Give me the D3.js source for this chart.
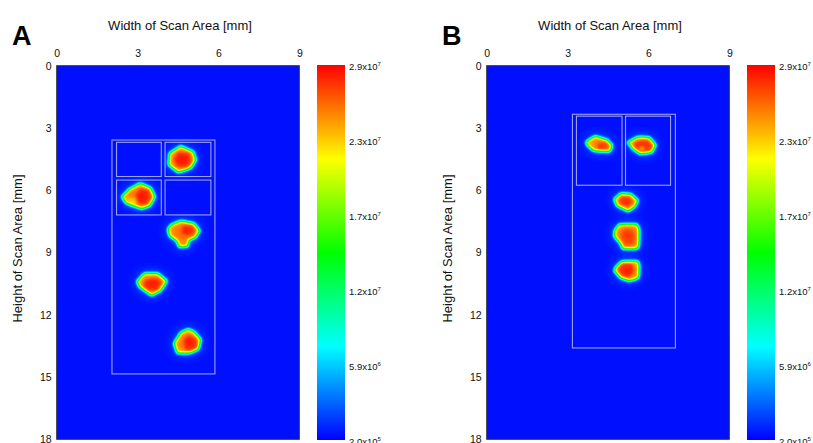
<!DOCTYPE html>
<html><head><meta charset="utf-8">
<script src="https://cdn.jsdelivr.net/npm/d3@7"></script>
<style>
html,body{margin:0;padding:0;background:#fff;}
svg{display:block;font-family:"Liberation Sans",Arial,sans-serif;}
</style></head><body>
<svg id="chart" width="813" height="443"></svg>
<script>
// Signal range of the colour bars and their tick values
const signalMin = 2.0e5;
const signalMax = 2.88e7;
const colorbarTicks = [2.0e5, 5.92e6, 1.164e7, 1.736e7, 2.308e7, 2.88e7];
const backgroundSignal = 6.0e5;

// Scan area (mm) and axis ticks
const scanWidth = 9, scanHeight = 18;
const xTicks = [0, 3, 6, 9];
const yTicks = [0, 3, 6, 9, 12, 15, 18];
const panelLabels = ["A", "B"];

// Panel A: hot spots (plateau outline in mm) and inner cores
const spotsA = [
  {level: 2.6e7, outline: [[4.18,4.22],[4.60,3.87],[5.07,4.14],[5.17,4.54],[4.98,4.94],[4.51,5.15],[4.15,4.78]]},
  {level: 2.6e7, outline: [[3.09,5.66],[3.49,5.88],[3.65,6.31],[3.46,6.76],[3.15,6.90],[2.57,6.63],[2.41,6.31],[2.69,5.95]]},
  {level: 2.6e7, outline: [[4.23,7.67],[4.60,7.47],[5.09,7.59],[5.32,7.95],[5.14,8.30],[4.92,8.40],[4.86,8.72],[4.54,8.75],[4.45,8.43],[4.18,8.20],[4.12,7.88]]},
  {level: 2.6e7, outline: [[2.97,10.40],[3.25,10.00],[3.75,10.00],[4.10,10.37],[3.86,10.84],[3.52,11.08],[3.06,10.65]]},
  {level: 2.6e7, outline: [[4.88,12.68],[5.09,12.81],[5.35,13.18],[5.27,13.66],[4.94,13.85],[4.47,13.85],[4.35,13.37],[4.60,12.86]]}
];
const coresA = [
  {level: 2.85e7, outline: [[4.50,4.16],[4.94,4.21],[5.02,4.64],[4.79,4.93],[4.42,4.83],[4.35,4.45]]},
  {level: 2.85e7, outline: [[3.09,5.89],[3.46,5.99],[3.53,6.37],[3.31,6.71],[3.02,6.66],[2.94,6.23]]},
  {level: 2.35e7, outline: [[2.64,6.37],[2.90,6.32],[2.98,6.61],[2.76,6.76]]},
  {level: 2.85e7, outline: [[4.68,7.67],[5.05,7.67],[5.17,7.96],[4.94,8.20],[4.65,8.06]]},
  {level: 2.85e7, outline: [[3.28,10.32],[3.76,10.23],[3.94,10.47],[3.72,10.85],[3.38,10.85],[3.20,10.61]]},
  {level: 2.85e7, outline: [[4.87,12.97],[5.16,13.12],[5.28,13.55],[5.02,13.79],[4.76,13.69],[4.72,13.21]]}
];
// Panel A: sample frames [x0, y0, x1, y1] in mm
const framesA = [
  [2.05, 3.58, 5.87, 14.85],
  [2.22, 3.69, 3.88, 5.34],
  [4.02, 3.69, 5.72, 5.34],
  [2.22, 5.51, 3.88, 7.19],
  [4.02, 5.51, 5.72, 7.19]
];

// Panel B
const spotsB = [
  {level: 2.6e7, outline: [[3.68,3.66],[4.02,3.39],[4.47,3.57],[4.67,3.85],[4.57,4.14],[3.98,4.11],[3.73,3.85]]},
  {level: 2.6e7, outline: [[5.22,3.69],[5.62,3.42],[6.03,3.45],[6.28,3.82],[6.12,4.19],[5.69,4.25],[5.42,4.01]]},
  {level: 2.6e7, outline: [[4.98,6.15],[5.35,6.18],[5.62,6.50],[5.50,6.79],[5.25,7.03],[4.84,6.76],[4.72,6.44]]},
  {level: 2.6e7, outline: [[4.92,7.64],[5.56,7.63],[5.66,7.83],[5.65,8.72],[5.56,8.83],[5.04,8.83],[4.97,8.59],[4.72,8.20],[4.75,7.91]]},
  {level: 2.6e7, outline: [[5.02,9.42],[5.59,9.41],[5.66,9.55],[5.65,10.19],[5.54,10.29],[5.29,10.37],[4.97,10.24],[4.72,9.87],[4.82,9.65]]}
];
const coresB = [
  {level: 2.85e7, outline: [[4.13,3.72],[4.47,3.68],[4.58,3.92],[4.43,4.11],[4.10,4.06]]},
  {level: 2.85e7, outline: [[5.43,3.68],[5.98,3.58],[6.20,3.87],[6.06,4.16],[5.69,4.21],[5.50,4.01]]},
  {level: 2.45e7, outline: [[5.65,3.90],[5.82,3.87],[5.85,4.05],[5.69,4.10]]},
  {level: 2.85e7, outline: [[4.94,6.28],[5.31,6.33],[5.46,6.57],[5.24,6.81],[4.91,6.66]]},
  {level: 2.75e7, outline: [[5.02,7.91],[5.39,7.87],[5.54,8.30],[5.46,8.68],[5.09,8.68],[4.98,8.30]]},
  {level: 2.85e7, outline: [[4.95,9.50],[5.39,9.50],[5.46,9.94],[5.24,10.23],[4.95,10.08],[4.83,9.75]]}
];
const framesB = [
  [3.18, 2.34, 7.00, 13.60],
  [3.33, 2.43, 5.02, 5.76],
  [5.15, 2.43, 6.82, 5.76]
];

const panels = [
  {label: panelLabels[0], spots: spotsA, cores: coresA, frames: framesA, left: 56.7},
  {label: panelLabels[1], spots: spotsB, cores: coresB, frames: framesB, left: 486.7}
];

// ---- layout ----
const plotTop = 65.7, plotW = 242.6, plotH = 373.6;
const barOffset = 260.3, barW = 28, barTop = 65, barBottom = 440;

const svg = d3.select("#chart");
const defs = svg.append("defs");

// normalised signal and jet-style colour map
const norm = d3.scaleLinear().domain([signalMin, signalMax]).range([0, 1]).clamp(true);
const jetStops = ["#0000ff", "#00ffff", "#00ff00", "#ffff00", "#ff0000"];
const color = d3.scaleLinear()
  .domain(jetStops.map((_, i) => norm.invert(i / (jetStops.length - 1))))
  .range(jetStops);

// intensity -> colour filter: smoothed field (sharp core + faint halo), then the colour table
const heat = defs.append("filter").attr("id", "heatmap")
  .attr("x", 0).attr("y", 0).attr("width", 1).attr("height", 1)
  .attr("color-interpolation-filters", "sRGB");
heat.append("feGaussianBlur").attr("in", "SourceGraphic").attr("stdDeviation", 1.6).attr("result", "near");
heat.append("feGaussianBlur").attr("in", "SourceGraphic").attr("stdDeviation", 5.5).attr("result", "far");
heat.append("feComposite").attr("in", "near").attr("in2", "far").attr("operator", "arithmetic")
  .attr("k1", 0).attr("k2", 0.85).attr("k3", 0.15).attr("k4", 0).attr("result", "field");
const transfer = heat.append("feComponentTransfer").attr("in", "field");
const samples = d3.range(129).map(i => d3.rgb(color(norm.invert(i / 128))));
transfer.append("feFuncR").attr("type", "table").attr("tableValues", samples.map(c => (c.r / 255).toFixed(4)).join(" "));
transfer.append("feFuncG").attr("type", "table").attr("tableValues", samples.map(c => (c.g / 255).toFixed(4)).join(" "));
transfer.append("feFuncB").attr("type", "table").attr("tableValues", samples.map(c => (c.b / 255).toFixed(4)).join(" "));
transfer.append("feFuncA").attr("type", "linear").attr("slope", 0).attr("intercept", 1);

const gray = v => { const g = Math.round(norm(v) * 255); return d3.rgb(g, g, g).formatHex(); };

// colour bar gradient
const grad = defs.append("linearGradient").attr("id", "cbar")
  .attr("x1", 0).attr("y1", 1).attr("x2", 0).attr("y2", 0);
d3.range(33).forEach(i => {
  grad.append("stop").attr("offset", i / 32).attr("stop-color", color(norm.invert(i / 32)));
});

const x = d3.scaleLinear().domain([0, scanWidth]).range([0, plotW]);
const y = d3.scaleLinear().domain([0, scanHeight]).range([0, plotH]);
const line = d3.line().x(d => x(d[0])).y(d => y(d[1])).curve(d3.curveLinearClosed);

function fmtSignal(v) {
  const e = Math.floor(Math.log10(v));
  return {m: (v / Math.pow(10, e)).toFixed(1), e: e};
}

panels.forEach((p, pi) => {
  const g = svg.append("g").attr("transform", `translate(${p.left},${plotTop})`);

  defs.append("clipPath").attr("id", "clip" + pi)
    .append("rect").attr("width", plotW).attr("height", plotH);

  const clipped = g.append("g").attr("clip-path", `url(#clip${pi})`);
  const field = clipped.append("g").attr("filter", "url(#heatmap)");
  field.append("rect").attr("x", -16).attr("y", -16)
    .attr("width", plotW + 32).attr("height", plotH + 32)
    .attr("fill", gray(backgroundSignal));
  field.selectAll("path.spot").data(p.spots).join("path").attr("class", "spot")
    .attr("d", d => line(d.outline)).attr("fill", d => gray(d.level));
  field.selectAll("path.core").data(p.cores).join("path").attr("class", "core")
    .attr("d", d => line(d.outline)).attr("fill", d => gray(d.level));

  // sample frames
  g.selectAll("rect.frame").data(p.frames).join("rect").attr("class", "frame")
    .attr("x", d => x(d[0])).attr("y", d => y(d[1]))
    .attr("width", d => x(d[2]) - x(d[0])).attr("height", d => y(d[3]) - y(d[1]))
    .attr("fill", "none").attr("stroke", "rgba(255,255,255,0.6)").attr("stroke-width", 1.1);

  // plot border
  g.append("rect").attr("width", plotW).attr("height", plotH)
    .attr("fill", "none").attr("stroke", "#333").attr("stroke-width", 1);

  // axes
  const xAxis = g.append("g").call(d3.axisTop(x).tickValues(xTicks).tickSize(0).tickPadding(9));
  const yAxis = g.append("g").call(d3.axisLeft(y).tickValues(yTicks).tickSize(0).tickPadding(5));
  [xAxis, yAxis].forEach(a => {
    a.select(".domain").remove();
    a.selectAll("text").attr("font-size", 10.5).attr("fill", "#111")
      .attr("font-family", "'Liberation Sans',Arial,sans-serif");
  });

  // titles
  g.append("text").attr("x", plotW / 2 + 2).attr("y", 29.5 - plotTop)
    .attr("text-anchor", "middle").attr("font-size", 13).attr("fill", "#111")
    .text("Width of Scan Area [mm]");
  g.append("text").attr("transform", `translate(-35,${plotH / 2 - 4}) rotate(-90)`)
    .attr("text-anchor", "middle").attr("font-size", 13).attr("fill", "#111")
    .text("Height of Scan Area [mm]");
  g.append("text").attr("x", -44.7).attr("y", 45 - plotTop)
    .attr("font-size", 27).attr("font-weight", "bold").attr("fill", "#000")
    .text(p.label);

  // colour bar
  const cb = g.append("g").attr("transform", `translate(${barOffset},${barTop - plotTop})`);
  const cy = d3.scaleLinear().domain([signalMin, signalMax]).range([barBottom - barTop, 0]);
  cb.append("rect").attr("width", barW).attr("height", barBottom - barTop).attr("fill", "url(#cbar)");
  const lab = cb.selectAll("text").data(colorbarTicks).join("text")
    .attr("x", barW + 4).attr("y", d => cy(d) + 2).attr("dy", "0.35em")
    .attr("font-size", 9.5).attr("fill", "#111");
  lab.append("tspan").text(d => fmtSignal(d).m + "x10");
  lab.append("tspan").attr("dy", -4).attr("font-size", 6).text(d => fmtSignal(d).e);
});
</script>
</body></html>
